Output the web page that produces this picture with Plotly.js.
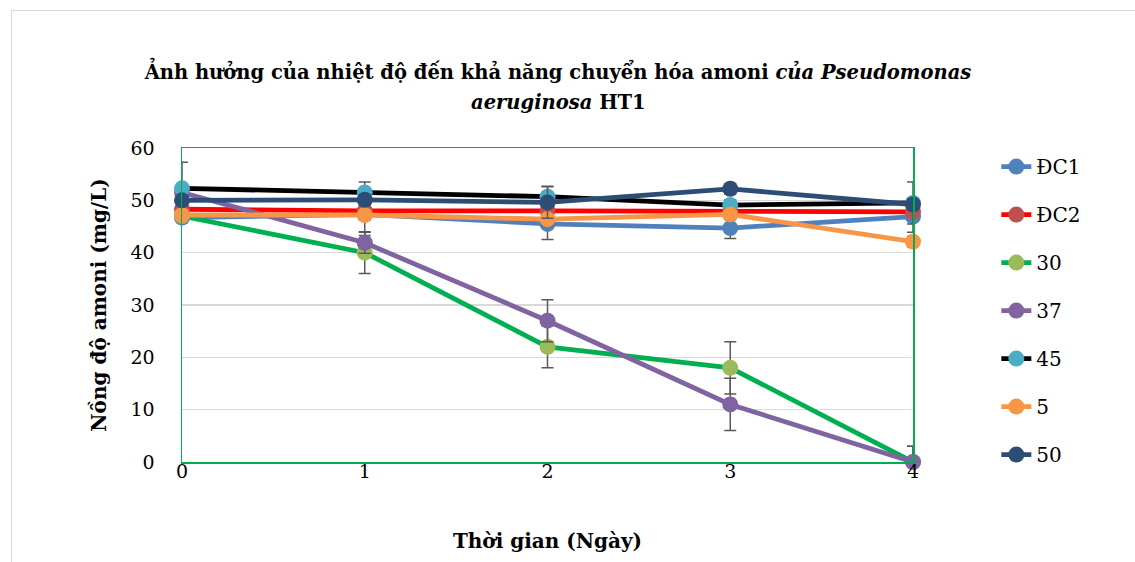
<!DOCTYPE html>
<html><head><meta charset="utf-8">
<script src="https://cdn.plot.ly/plotly-3.0.1.min.js"></script>
<style>
body{margin:0;background:#fff;}
#wrap{position:relative;width:1135px;height:562px;}
#chart{position:absolute;left:0;top:0;width:1135px;height:562px;}
#frame{position:absolute;left:11px;top:10px;width:1130px;height:560px;border-left:1px solid #d9d9d9;border-top:1px solid #d9d9d9;pointer-events:none;}
</style></head>
<body><div id="wrap"><div id="chart"></div><div id="frame"></div></div>
<script>
const days = [0, 1, 2, 3, 4];
const seriesNames = ["ĐC1", "ĐC2", "30", "37", "45", "5", "50"];
const valDC1 = [46.7, 47.3, 45.5, 44.7, 46.9];
const valDC2 = [48.3, 48.0, 48.0, 47.9, 47.8];
const val30 = [47.0, 40.0, 22.0, 18.0, 0.0];
const val37 = [51.5, 41.9, 27.0, 11.0, 0.0];
const val45 = [52.3, 51.5, 50.7, 49.1, 49.5];
const val5 = [47.2, 47.2, 46.4, 47.3, 42.1];
const val50 = [50.0, 50.1, 49.6, 52.2, 49.2];
const errDC1 = [1, 4, 3, 2, 3];
const errDC2 = [1, 1, 1, 1, 1];
const err30 = [1, 4, 4, 5, 3];
const err37 = [1, 2, 4, 5, 3];
const err45 = [5, 2, 2, 1, 4];
const err5 = [1, 1, 1, 1, 1];
const err50 = [1, 1, 3, 1, 1];
const titleLine1 = '<b>Ảnh hưởng của nhiệt độ đến khả năng chuyển hóa amoni <i>của Pseudomonas</i></b>';
const titleLine2 = '<b><i>aeruginosa</i> HT1</b>';
const lineColors = ["#4F81BD", "#FF0000", "#00B050", "#8064A2", "#000000", "#F79646", "#2C4D75"];
const markerColors = ["#4F81BD", "#C0504D", "#9BBB59", "#8064A2", "#4BACC6", "#F79646", "#2C4D75"];
const values = [valDC1, valDC2, val30, val37, val45, val5, val50];
const errs = [errDC1, errDC2, err30, err37, err45, err5, err50];

const FONT = "'DejaVu Serif', 'Liberation Serif', serif";
const traces = seriesNames.map((n, i) => ({
  x: days, y: values[i], name: n, type: 'scatter', mode: 'lines+markers',
  line: {color: lineColors[i], width: 4.8},
  marker: {color: markerColors[i], size: 16},
  error_y: {type: 'data', array: errs[i], visible: true, color: '#595959', thickness: 1.5, width: 6},
  cliponaxis: false,
  legendgroup: 'g' + i
}));

const layout = {
  width: 1135, height: 562,
  margin: {l: 182, r: 222, t: 148, b: 100},
  paper_bgcolor: '#fff', plot_bgcolor: '#fff',
  font: {family: FONT, color: '#000', size: 19},
  title: {
    text: titleLine1,
    x: 0.4916, xref: 'container', xanchor: 'center',
    y: 1 - 72 / 562, yref: 'container', yanchor: 'middle',
    font: {family: FONT, size: 19.5, color: '#000'}
  },
  annotations: [{
    text: titleLine2, showarrow: false,
    xref: 'paper', x: (558 - 182) / 731, xanchor: 'center',
    yref: 'paper', y: (462 - 103) / 314, yanchor: 'middle',
    font: {family: FONT, size: 19.5, color: '#000'}
  }],
  xaxis: {
    range: [0, 4], tickvals: days, ticktext: days.map(String),
    showline: true, mirror: true, linecolor: '#00B050', linewidth: 1.5,
    showgrid: false, zeroline: false, ticks: '',
    ticklabelstandoff: -8,
    tickfont: {family: FONT, size: 19},
    title: {text: '<b>Thời gian (Ngày)</b>', font: {family: FONT, size: 20}, standoff: 52}
  },
  yaxis: {
    range: [0, 60], dtick: 10,
    showline: true, mirror: true, linecolor: '#00B050', linewidth: 1.5,
    showgrid: true, gridcolor: '#d9d9d9', gridwidth: 1.5, zeroline: false, ticks: '',
    ticklabelstandoff: 22,
    tickfont: {family: FONT, size: 19},
    title: {text: '<b>Nồng độ amoni (mg/L)</b>', font: {family: FONT, size: 20}, standoff: 18}
  },
  legend: {
    x: 1.114, xref: 'paper', xanchor: 'left', y: 1.003, yanchor: 'top',
    font: {family: FONT, size: 20}, tracegroupgap: 19, bgcolor: 'rgba(0,0,0,0)',
    maxheight: 540
  },
  showlegend: true
};
Plotly.newPlot('chart', traces, layout, {displayModeBar: false, staticPlot: true});
</script></body></html>
